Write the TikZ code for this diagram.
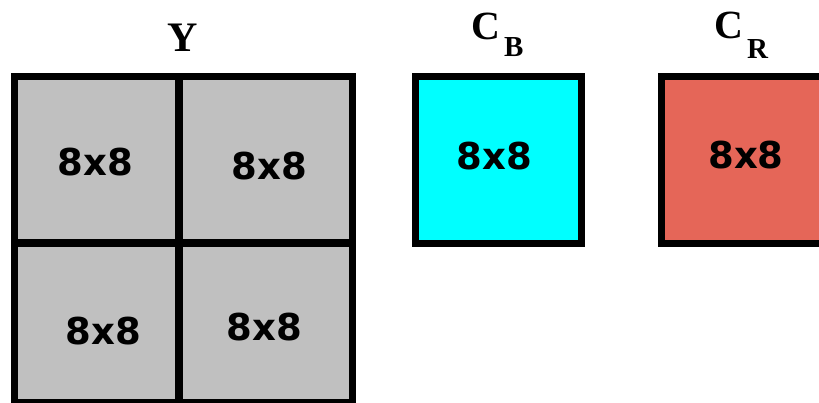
\documentclass[tikz,border=0pt]{standalone}
\usepackage{fontspec}
\newfontfamily\boxfont{DejaVu Sans}
\newfontfamily\labfont{Liberation Serif}
\definecolor{ygray}{RGB}{192,192,192}
\definecolor{cbcyan}{RGB}{0,255,255}
\definecolor{crred}{RGB}{229,102,88}
\tikzset{
  blockbox/.style={draw=black,line width=7.5pt},
  blocktext/.style={inner sep=0pt,font=\boxfont\bfseries\fontsize{37}{37}\selectfont},
  labtext/.style={inner sep=0pt,anchor=base west,font=\labfont\bfseries\fontsize{40}{40}\selectfont},
  subtext/.style={inner sep=0pt,anchor=base west,font=\labfont\bfseries\fontsize{29}{29}\selectfont}
}
\begin{document}
\begin{tikzpicture}[x=1pt,y=-1pt]
\useasboundingbox (0,0) rectangle (819,403);
\clip (0,0) rectangle (819,403);
\fill[white] (0,0) rectangle (819,403);
% Y block
\fill[ygray] (14.5,76.5) rectangle (352.5,403);
\draw[blockbox] (14.5,76.5) rectangle (352.5,403);
\draw[blockbox] (179,76.5) -- (179,403);
\draw[blockbox] (14.5,243) -- (352.5,243);
% Cb block
\draw[blockbox,fill=cbcyan] (415.5,76.5) rectangle (581.5,243.5);
% Cr block
\draw[blockbox,fill=crred] (661.5,76.5) rectangle (840,243.5);
% texts
\node[blocktext] (y1) at (95.5,162) {8x8};
\node[blocktext] (y2) at (269.5,166) {8x8};
\node[blocktext] (y3) at (103.5,331) {8x8};
\node[blocktext] (y4) at (264.5,327) {8x8};
\node[blocktext] (cb) at (494.5,156) {8x8};
\node[blocktext] (cr) at (746,155) {8x8};
% labels
\node[inner sep=0pt,anchor=base,font=\labfont\bfseries\fontsize{42}{42}\selectfont] (ylab) at (182.5,52) {Y};
\node[labtext] (cblab) at (471,40) {C};
\node[subtext] (cbsub) at (504,57) {B};
\node[labtext] (crlab) at (714,39) {C};
\node[subtext] (crsub) at (747,59) {R};
\end{tikzpicture}
\end{document}
